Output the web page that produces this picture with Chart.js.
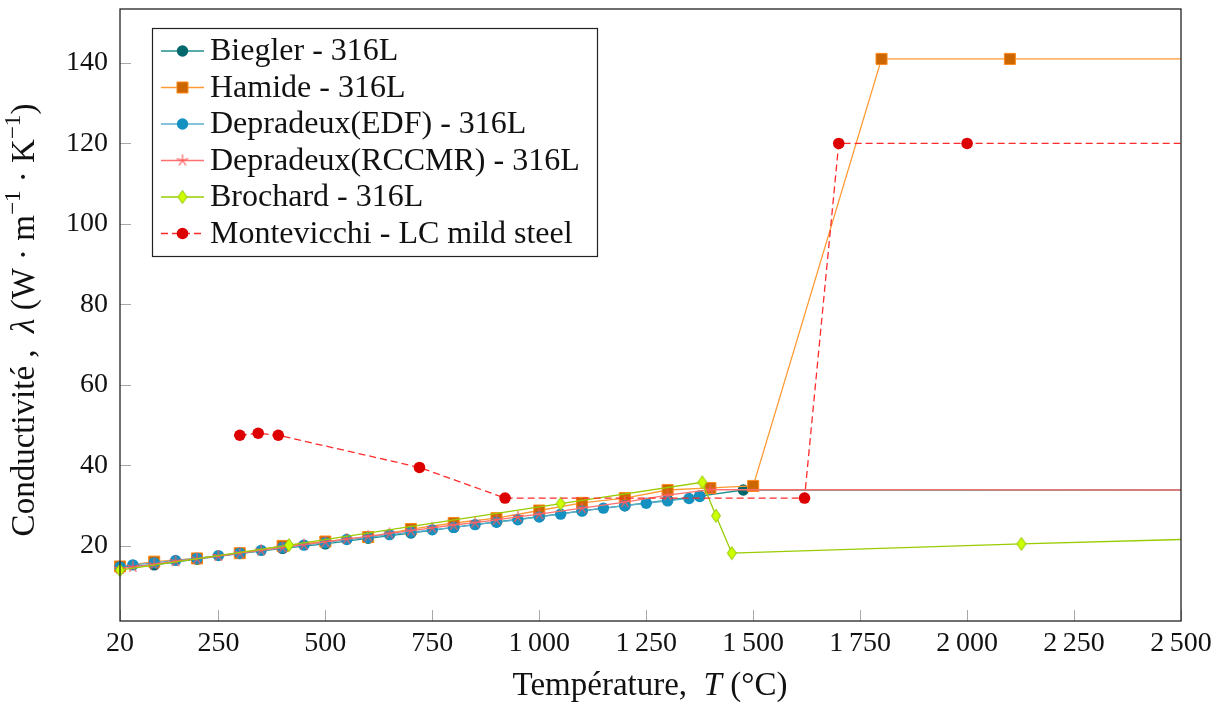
<!DOCTYPE html>
<html>
<head>
<meta charset="utf-8">
<script src="https://cdn.jsdelivr.net/npm/chart.js"></script>
<style>
  html, body { margin: 0; padding: 0; background: #fff; }
  #wrap { width: 1223px; height: 706px; position: relative; }
</style>
</head>
<body>
<div id="wrap"><canvas id="chart"></canvas></div>
<script>
"use strict";

// ---- data (temperature in °C, conductivity in W/m/K) ----
const bieglerT = [20, 100, 200, 300, 400, 500, 600, 700, 800, 900, 1000, 1100, 1200, 1300, 1375, 1477, 2500];
const bieglerK = [14.8, 15.3, 16.7, 18.1, 19.4, 20.5, 21.9, 23.2, 24.6, 26.0, 27.3, 28.7, 30.0, 31.4, 32.4, 33.9, 33.9];

const hamideT = [20, 100, 200, 300, 400, 500, 600, 700, 800, 900, 1000, 1100, 1200, 1300, 1400, 1500, 1800, 2100, 2500];
const hamideK = [14.9, 16.1, 16.9, 18.2, 20.0, 21.1, 22.2, 24.2, 25.7, 26.9, 28.8, 30.7, 31.9, 33.9, 34.4, 34.9, 141, 141, 141];

const edfT = [20, 50, 100, 150, 200, 250, 300, 350, 400, 450, 500, 550, 600, 650, 700, 750, 800, 850, 900, 950,
              1000, 1050, 1100, 1150, 1200, 1250, 1300, 1350, 1375];
const edfK = [14.8, 15.3, 15.8, 16.4, 16.9, 17.6, 18.2, 18.9, 19.6, 20.2, 20.8, 21.6, 22.1, 22.8, 23.4, 24.0, 24.6, 25.3, 25.9, 26.5,
              27.2, 27.9, 28.7, 29.4, 30.0, 30.6, 31.2, 31.8, 32.3];

const rccmrT = [20, 50, 100, 150, 200, 250, 300, 350, 400, 450, 500, 550, 600, 650, 700, 750, 800, 850, 900, 950,
                1000, 1100, 1200, 1300, 1400, 2500];
const rccmrK = [14.3, 14.8, 15.4, 16.2, 16.8, 17.5, 18.2, 18.9, 19.6, 20.3, 21.0, 21.7, 22.4, 23.1, 23.8, 24.5, 25.2, 25.8, 26.5, 27.2,
                27.9, 29.4, 30.9, 32.6, 34.0, 33.9];

const brochardT = [20, 415, 1050, 1381, 1413, 1450, 2127, 2500];
const brochardK = [14.0, 20.2, 30.5, 35.8, 27.5, 18.2, 20.5, 21.6];

const montevicchiT = [300, 343, 390, 720, 920, 1620, 1700, 2000, 2500];
const montevicchiK = [47.5, 48.0, 47.5, 39.5, 31.9, 31.9, 120, 120, 120];

const seriesNames = [
  'Biegler - 316L',
  'Hamide - 316L',
  'Depradeux(EDF) - 316L',
  'Depradeux(RCCMR) - 316L',
  'Brochard - 316L',
  'Montevicchi - LC mild steel',
];

const xTicks = [20, 250, 500, 750, 1000, 1250, 1500, 1750, 2000, 2250, 2500];
const yTicks = [20, 40, 60, 80, 100, 120, 140];

// ---- helpers ----
const FONT = "'Liberation Serif', 'Times New Roman', serif";
const X_MIN = 20, X_MAX = 2500;
const Y_MIN = 1.35, Y_MAX = 153.4;

const toPoints = (xs, ys) => xs.map((x, i) => ({x: x, y: ys[i]}));

// markers at the right border are only line ends
const radiusAt = r => ctx => (ctx.raw && ctx.raw.x >= X_MAX ? 0 : r);

function makeStar(color) {
  const c = document.createElement('canvas');
  c.width = 14; c.height = 14;
  const g = c.getContext('2d');
  g.strokeStyle = color;
  g.lineWidth = 1.2;
  g.beginPath();
  for (let k = 0; k < 5; k++) {
    const a = -Math.PI / 2 + k * 2 * Math.PI / 5;
    g.moveTo(7, 7);
    g.lineTo(7 + 6 * Math.cos(a), 7 + 6 * Math.sin(a));
  }
  g.stroke();
  return c;
}

function makeDiamond(fill, stroke) {
  const c = document.createElement('canvas');
  c.width = 12; c.height = 16;
  const g = c.getContext('2d');
  g.fillStyle = fill;
  g.strokeStyle = stroke;
  g.lineWidth = 1;
  g.beginPath();
  g.moveTo(6, 1.5); g.lineTo(10.5, 8); g.lineTo(6, 14.5); g.lineTo(1.5, 8);
  g.closePath();
  g.fill(); g.stroke();
  return c;
}

const starImg = makeStar('#ff5a5a');
const diamondImg = makeDiamond('#ccff00', '#8fc400');

const fmt = v => {
  const s = String(v);
  return s.length > 3 ? s.slice(0, s.length - 3) + '\u2009' + s.slice(-3) : s;
};

// draw text made of segments (normal / italic / superscript)
function drawSegments(g, segs, size) {
  let w = 0;
  const widths = segs.map(s => {
    g.font = (s.italic ? 'italic ' : '') + (s.sup ? size * 0.7 : size) + 'px ' + FONT;
    const m = g.measureText(s.t).width;
    w += m;
    return m;
  });
  let x = -w / 2;
  segs.forEach((s, i) => {
    g.font = (s.italic ? 'italic ' : '') + (s.sup ? size * 0.7 : size) + 'px ' + FONT;
    g.fillText(s.t, x, s.sup ? -size * 0.42 : 0);
    x += widths[i];
  });
}

const framePlugin = {
  id: 'frame',
  beforeDatasetsDraw(chart) {
    const {ctx, chartArea: a, scales} = chart;
    ctx.save();
    ctx.strokeStyle = '#a8a8a8';
    ctx.lineWidth = 1;
    ctx.beginPath();
    xTicks.forEach(v => {
      const px = Math.round(scales.x.getPixelForValue(v)) + 0.5;
      ctx.moveTo(px, a.bottom); ctx.lineTo(px, a.bottom - 11);
    });
    yTicks.forEach(v => {
      const py = Math.round(scales.y.getPixelForValue(v)) + 0.5;
      ctx.moveTo(a.left, py); ctx.lineTo(a.left + 11, py);
    });
    ctx.stroke();
    ctx.restore();
  },
  afterDatasetsDraw(chart) {
    const {ctx, chartArea: a} = chart;
    ctx.save();
    ctx.strokeStyle = '#222';
    ctx.lineWidth = 1.3;
    ctx.strokeRect(a.left, a.top, a.right - a.left, a.bottom - a.top);
    ctx.restore();
  },
  afterDraw(chart) {
    const {ctx} = chart;
    ctx.save();
    ctx.fillStyle = '#111';
    ctx.textBaseline = 'alphabetic';
    ctx.textAlign = 'left';
    // x title
    ctx.save();
    ctx.translate(650, 695);
    drawSegments(ctx, [
      {t: 'Température,  '}, {t: 'T', italic: true}, {t: ' (°C)'}
    ], 33);
    ctx.restore();
    // y title
    ctx.save();
    ctx.translate(34, 320);
    ctx.rotate(-Math.PI / 2);
    drawSegments(ctx, [
      {t: 'Conductivité ,  '}, {t: 'λ', italic: true}, {t: ' (W · m'}, {t: '−1', sup: true},
      {t: ' · K'}, {t: '−1', sup: true}, {t: ')'}
    ], 33);
    ctx.restore();
    ctx.restore();
  }
};

// legend box with line sample + marker
function drawMarker(g, ds, x, y) {
  const st = ds.pointStyle;
  if (st instanceof HTMLCanvasElement) {
    g.drawImage(st, x - st.width / 2, y - st.height / 2);
    return;
  }
  g.fillStyle = ds.pointBackgroundColor;
  g.strokeStyle = ds.pointBorderColor;
  g.lineWidth = ds.pointBorderWidth || 1;
  const r = ds.legendRadius;
  g.beginPath();
  if (st === 'rect') {
    const s = r * Math.SQRT1_2;
    g.rect(x - s, y - s, 2 * s, 2 * s);
  } else {
    g.arc(x, y, r, 0, Math.PI * 2);
  }
  g.fill();
  if (ds.pointBorderWidth) g.stroke();
}

const legendPlugin = {
  id: 'boxLegend',
  afterDraw(chart) {
    const {ctx} = chart;
    const box = {x: 152.5, y: 28.5, w: 445, h: 228};
    ctx.save();
    ctx.fillStyle = '#fff';
    ctx.fillRect(box.x, box.y, box.w, box.h);
    ctx.strokeStyle = '#222';
    ctx.lineWidth = 1.2;
    ctx.strokeRect(box.x, box.y, box.w, box.h);
    chart.data.datasets.forEach((ds, i) => {
      const cy = box.y + 22.5 + i * 36.5;
      ctx.save();
      ctx.strokeStyle = ds.borderColor;
      ctx.lineWidth = ds.borderWidth;
      ctx.setLineDash(ds.borderDash || []);
      ctx.beginPath();
      ctx.moveTo(161, cy); ctx.lineTo(204, cy);
      ctx.stroke();
      ctx.restore();
      drawMarker(ctx, ds, 182.5, cy);
      ctx.fillStyle = '#111';
      ctx.font = '32px ' + FONT;
      ctx.textBaseline = 'middle';
      ctx.fillText(seriesNames[i], 210, cy + 1);
    });
    ctx.restore();
  }
};

// ---- datasets ----
const datasets = [
  {
    label: seriesNames[0], data: toPoints(bieglerT, bieglerK),
    borderColor: '#1f8f8f', borderWidth: 1.3,
    pointStyle: 'circle', pointRadius: radiusAt(5.7), legendRadius: 5.7,
    pointBackgroundColor: '#00686a', pointBorderColor: '#00686a', pointBorderWidth: 0,
    order: 5,
  },
  {
    label: seriesNames[1], data: toPoints(hamideT, hamideK),
    borderColor: '#ff9a33', borderWidth: 1.3,
    pointStyle: 'rect', pointRadius: radiusAt(7.8), legendRadius: 7.8,
    pointBackgroundColor: '#cc6600', pointBorderColor: '#ff8a1a', pointBorderWidth: 1,
    order: 4,
  },
  {
    label: seriesNames[2], data: toPoints(edfT, edfK),
    borderColor: '#5aaed0', borderWidth: 1.3,
    pointStyle: 'circle', pointRadius: radiusAt(5.7), legendRadius: 5.7,
    pointBackgroundColor: '#1591c1', pointBorderColor: '#1591c1', pointBorderWidth: 0,
    order: 3,
  },
  {
    label: seriesNames[3], data: toPoints(rccmrT, rccmrK),
    borderColor: '#ff7070', borderWidth: 1.3,
    pointStyle: starImg, pointRadius: radiusAt(6), legendRadius: 6,
    order: 2,
  },
  {
    label: seriesNames[4], data: toPoints(brochardT, brochardK),
    borderColor: '#99cc00', borderWidth: 1.3,
    pointStyle: diamondImg, pointRadius: radiusAt(6), legendRadius: 6,
    order: 1,
  },
  {
    label: seriesNames[5], data: toPoints(montevicchiT, montevicchiK),
    borderColor: '#ff2a2a', borderWidth: 1.3, borderDash: [7, 4],
    pointStyle: 'circle', pointRadius: radiusAt(5.8), legendRadius: 5.8,
    pointBackgroundColor: '#dd0000', pointBorderColor: '#dd0000', pointBorderWidth: 0,
    order: 0,
  },
];
datasets.forEach(ds => {
  ds.fill = false;
  ds.tension = 0;
  ds.clip = false;
  ds.pointHoverRadius = ds.pointRadius;
});

new Chart(document.getElementById('chart'), {
  type: 'line',
  data: {datasets: datasets},
  options: {
    responsive: true,
    maintainAspectRatio: false,
    animation: false,
    devicePixelRatio: 1,
    layout: {padding: {left: 0, top: 9, right: 42, bottom: 0}},
    plugins: {legend: {display: false}, tooltip: {enabled: false}},
    scales: {
      x: {
        type: 'linear', min: X_MIN, max: X_MAX,
        afterBuildTicks: s => { s.ticks = xTicks.map(v => ({value: v})); },
        afterFit: s => { s.height = 85; s.paddingLeft = 0; s.paddingRight = 0; },
        grid: {display: false, drawTicks: false}, border: {display: false},
        ticks: {
          font: {family: FONT, size: 28}, color: '#111', padding: 6,
          maxRotation: 0, autoSkip: false, callback: v => fmt(v),
        },
      },
      y: {
        type: 'linear', min: Y_MIN, max: Y_MAX,
        afterBuildTicks: s => { s.ticks = yTicks.map(v => ({value: v})); },
        afterFit: s => { s.width = 120; s.paddingTop = 0; s.paddingBottom = 0; },
        grid: {display: false, drawTicks: false}, border: {display: false},
        ticks: {
          font: {family: FONT, size: 28}, color: '#111', padding: 12,
          autoSkip: false, callback: v => String(v),
        },
      },
    },
  },
  plugins: [framePlugin, legendPlugin],
});
</script>
</body>
</html>
